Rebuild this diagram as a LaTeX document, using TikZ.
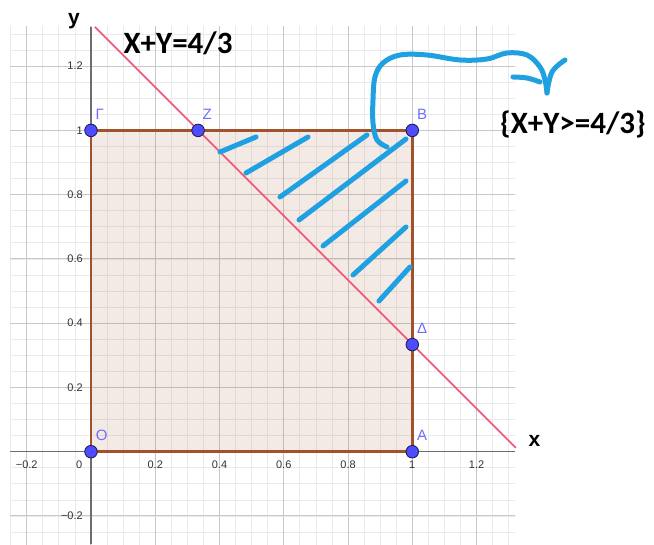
\documentclass[tikz,border=0pt]{standalone}
\usepackage{fontspec}
\setmainfont{Liberation Sans}
\newfontfamily\hand{Carlito}
\definecolor{gminor}{RGB}{234,234,234}
\definecolor{gmajor}{RGB}{200,200,200}
\definecolor{axisc}{RGB}{110,110,110}
\definecolor{sqc}{RGB}{160,82,45}
\definecolor{linec}{RGB}{244,80,110}
\definecolor{ptfill}{RGB}{77,77,255}
\definecolor{ptdraw}{RGB}{30,30,90}
\definecolor{ptlab}{RGB}{110,110,255}
\definecolor{scrib}{RGB}{30,160,225}
\definecolor{tickc}{RGB}{50,50,50}
\tikzset{
  minor/.style={draw=gminor, line width=0.8pt},
  major/.style={draw=gmajor, line width=1pt},
  axisline/.style={draw=axisc, line width=1.4pt},
  sqedge/.style={draw=sqc, line width=2.8pt, line join=round},
  pt/.style={circle, fill=ptfill, draw=ptdraw, line width=0.9pt, minimum size=12.5pt, inner sep=0pt},
  ptlabel/.style={text=ptlab, font=\fontsize{15}{15}\selectfont, inner sep=0pt},
  tick/.style={text=tickc, font=\fontsize{11}{11}\selectfont, inner sep=1pt},
  axlab/.style={font=\fontsize{21}{21}\selectfont\bfseries, inner sep=0pt},
  handtext/.style={font=\hand\fontsize{31}{31}\selectfont\bfseries, inner sep=0pt},
  scribble/.style={draw=scrib, line width=5pt, line cap=round, line join=round}
}
\begin{document}
\begin{tikzpicture}[x=321.3pt, y=321.3pt]
\useasboundingbox (-0.2832,-0.2873) rectangle (1.7523,1.4059);
% grid
\begin{scope}
  \clip (-0.252,-0.2873) rectangle (1.32,1.322);
  \foreach \i in {-6,...,27} {
    \draw[minor] (\i*0.05,-0.35) -- (\i*0.05,1.35);
    \draw[minor] (-0.35,\i*0.05) -- (1.35,\i*0.05);
  }
  \foreach \i in {-1,...,6} {
    \draw[major] (\i*0.2,-0.35) -- (\i*0.2,1.35);
    \draw[major] (-0.35,\i*0.2) -- (1.35,\i*0.2);
  }
\end{scope}
% axes
\coordinate (xl) at (-0.252,0);
\coordinate (xr) at (1.32,0);
\coordinate (yb) at (0,-0.2873);
\coordinate (yt) at (0,1.322);
\draw[axisline] (xl) -- (xr);
\draw[axisline] (yb) -- (yt);
% tick labels
\node[tick] (tx1) at (-0.2,-0.041) {−0.2};
\node[tick] (tx0) at (-0.037,-0.041) {0};
\node[tick] (tx2) at (0.2,-0.041) {0.2};
\node[tick] (tx4) at (0.4,-0.041) {0.4};
\node[tick] (tx6) at (0.6,-0.041) {0.6};
\node[tick] (tx8) at (0.8,-0.041) {0.8};
\node[tick] (tx10) at (1.0,-0.041) {1};
\node[tick] (tx12) at (1.2,-0.041) {1.2};
\node[tick, anchor=east] (ty12) at (-0.022,1.2) {1.2};
\node[tick, anchor=east] (ty10) at (-0.022,1.0) {1};
\node[tick, anchor=east] (ty8) at (-0.022,0.8) {0.8};
\node[tick, anchor=east] (ty6) at (-0.022,0.6) {0.6};
\node[tick, anchor=east] (ty4) at (-0.022,0.4) {0.4};
\node[tick, anchor=east] (ty2) at (-0.022,0.2) {0.2};
\node[tick, anchor=east] (tym2) at (-0.022,-0.2) {−0.2};
% axis labels
\node[axlab] (xlab) at (1.38,0.035) {x};
\node[axlab] (ylab) at (-0.053,1.34) {y};
% square
\coordinate (o) at (0,0);
\coordinate (a) at (1,0);
\coordinate (b) at (1,1);
\coordinate (g) at (0,1);
\fill[sqc, fill opacity=0.12] (o) -- (a) -- (b) -- (g) -- cycle;
\draw[sqedge] (o) -- (a) -- (b) -- (g) -- cycle;
% line x+y=4/3
\coordinate (L1) at (0.012,1.322);
\coordinate (L2) at (1.322,0.012);
\draw[draw=linec, line width=1.6pt] (L1) -- (L2);
% points
\node[pt] (pO) at (0,0) {};
\node[pt] (pA) at (1,0) {};
\node[pt] (pB) at (1,1) {};
\node[pt] (pG) at (0,1) {};
\node[pt] (pZ) at (1/3,1) {};
\node[pt] (pD) at (1,1/3) {};
\node[ptlabel] (lO) at (0.033,0.051) {O};
\node[ptlabel] (lA) at (1.031,0.051) {A};
\node[ptlabel] (lB) at (1.031,1.051) {B};
\node[ptlabel] (lG) at (0.027,1.051) {Γ};
\node[ptlabel] (lZ) at (0.362,1.051) {Z};
\node[ptlabel] (lD) at (1.031,0.383) {Δ};
% annotations
\node[handtext] (eq) at (0.271,1.272) {X+Y=4/3};
\node[handtext] (ineq) at (1.500,1.020) {\{X+Y>=4/3\}};
% blue scribbles in pixel coordinates
\begin{scope}[shift={(-0.2832,1.4059)}, x=1pt, y=-1pt]
  \draw[scribble] (220,152) -- (256,137);
  \draw[scribble] (246,173) -- (308,137);
  \draw[scribble] (280,197) -- (367,135);
  \draw[scribble] (299,220) -- (406,139);
  \draw[scribble] (323,246) -- (406,181);
  \draw[scribble] (353,275) -- (406,227);
  \draw[scribble] (379,301) -- (410,267);
  \draw[scribble] plot[smooth, tension=0.6] coordinates {(387,147) (377,140) (373,123) (373,100) (375,77) (383,63) (400,55) (427,55) (460,60) (487,59) (507,53) (527,55) (540,67) (545,80) (547,93)};
  \draw[scribble] plot[smooth, tension=0.6] coordinates {(513,77) (527,78) (540,82)};
  \draw[scribble] plot[smooth, tension=0.6] coordinates {(565,60) (552,72) (547,93)};
\end{scope}
\end{tikzpicture}
\end{document}
